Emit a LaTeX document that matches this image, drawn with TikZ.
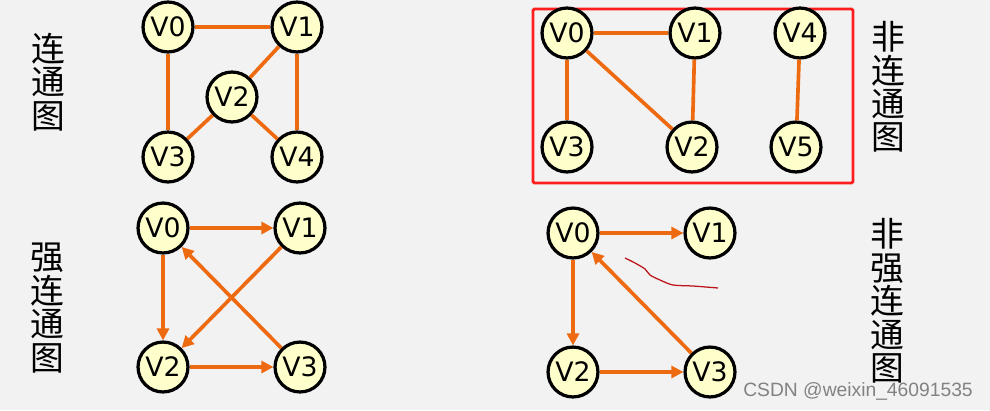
\documentclass[tikz,border=0pt]{standalone}
\usepackage{fontspec}
\setsansfont{DejaVu Sans}
\newfontfamily\cjk{Noto Sans CJK SC}
\newfontfamily\markfont{Liberation Sans}
\usetikzlibrary{arrows.meta}
\definecolor{edgeorange}{RGB}{238,106,16}
\definecolor{nodeyellow}{RGB}{255,255,204}
\definecolor{backgray}{RGB}{242,242,242}
\definecolor{boxred}{RGB}{255,30,30}
\definecolor{inkred}{RGB}{190,20,30}
\definecolor{markgray}{RGB}{130,130,130}
\begin{document}
\begin{tikzpicture}
[x=0.025cm,y=-0.025cm,
  nodedecorate/.style={shape=circle,minimum size=35.5pt,inner sep=0pt,outer sep=1.15pt,
    draw,line width=2.3pt,fill=nodeyellow,font=\sffamily\fontsize{19}{19}\selectfont},%
  linedecorate/.style={-,line width=2.6pt,draw=edgeorange},%
  arrowdecorate/.style={-{Triangle[length=8.5pt,width=8.5pt]},line width=2.6pt,draw=edgeorange},%
  titledecorate/.style={align=center,inner sep=0pt,font=\cjk\fontsize{24}{23.8}\selectfont}]
\fill[backgray] (0,0) rectangle (990,410);
\useasboundingbox (0,0) rectangle (990,410);
%% connected graph
\foreach \nodename/\nodetext/\x/\y in {a0/V0/168/27, a1/V1/297/27, a2/V2/232/97, a3/V3/168/157, a4/V4/297/157} {
  \node (\nodename) at (\x,\y) [nodedecorate] {\nodetext};
}
\path
\foreach \startnode/\endnode in {a0/a1, a0/a3, a1/a2, a1/a4, a2/a3, a2/a4} {
  (\startnode) edge[linedecorate] (\endnode)
};
\node (t1) at (48,82) [titledecorate] {连\\通\\图};
%% strongly connected graph
\foreach \nodename/\nodetext/\x/\y in {b0/V0/163/228, b1/V1/300/228, b2/V2/163/367, b3/V3/300/367} {
  \node (\nodename) at (\x,\y) [nodedecorate] {\nodetext};
}
\path
\foreach \startnode/\endnode in {b0/b1, b0/b2, b1/b2, b3/b0, b2/b3} {
  (\startnode) edge[arrowdecorate] (\endnode)
};
\node (t2) at (47,308) [titledecorate] {强\\连\\通\\图};
%% not connected graph
\draw[boxred,line width=2pt,rounded corners=1pt] (533,9) rectangle (853,183);
\foreach \nodename/\nodetext/\x/\y in {c0/V0/567/33, c1/V1/695/33, c4/V4/800/33, c3/V3/567/147, c2/V2/692/147, c5/V5/796/147} {
  \node (\nodename) at (\x,\y) [nodedecorate] {\nodetext};
}
\path
\foreach \startnode/\endnode in {c0/c1, c0/c3, c0/c2, c1/c2, c4/c5} {
  (\startnode) edge[linedecorate] (\endnode)
};
\node (t3) at (888,87) [titledecorate] {非\\连\\通\\图};
%% not strongly connected graph
\foreach \nodename/\nodetext/\x/\y in {d0/V0/573/233, d1/V1/710/233, d2/V2/573/372, d3/V3/710/372} {
  \node (\nodename) at (\x,\y) [nodedecorate] {\nodetext};
}
\path
\foreach \startnode/\endnode in {d0/d1, d0/d2, d2/d3, d3/d0} {
  (\startnode) edge[arrowdecorate] (\endnode)
};
\draw[inkred,line width=0.9pt] plot[smooth] coordinates
  {(625,258) (635,263) (645,269) (650,275) (660,280) (673,285) (693,286) (718,288)};
\node (t4) at (887,301) [titledecorate] {非\\强\\连\\通\\图};
\node (mark) at (858,391) [inner sep=0pt,text=markgray,font=\markfont\fontsize{13.7}{14}\selectfont] {CSDN @weixin\_46091535};
\end{tikzpicture}
\end{document}
